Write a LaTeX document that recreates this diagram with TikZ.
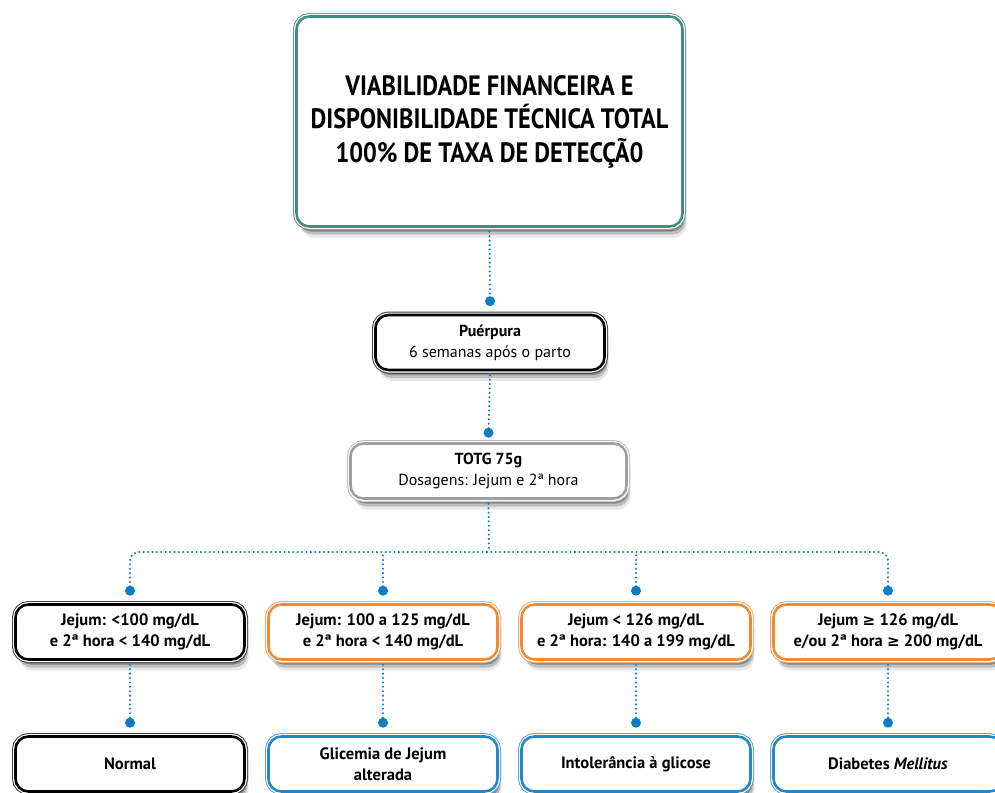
\documentclass[tikz,border=0pt]{standalone}
\usepackage{fontspec}
\setmainfont{PT Sans}
\newfontfamily\topfont[FakeStretch=0.87]{PT Sans}
\newfontfamily\symf[Scale=0.92]{DejaVu Sans}
\newcommand{\gee}{{\symf ≥}}
\usetikzlibrary{shadows,calc}
\definecolor{dotc}{RGB}{12,125,194}
\definecolor{tealc}{RGB}{62,143,123}
\definecolor{tealo}{RGB}{110,150,140}
\definecolor{orac}{RGB}{239,139,53}
\definecolor{orao}{RGB}{240,170,110}
\definecolor{bluc}{RGB}{35,135,200}
\definecolor{bluo}{RGB}{90,165,215}
\definecolor{grayc}{RGB}{160,160,160}
\definecolor{grayo}{RGB}{190,190,190}
\tikzset{
  softshadow/.style={
    drop shadow={shadow xshift=2pt,shadow yshift=-5pt,opacity=.30,fill=black},
    drop shadow={shadow xshift=3pt,shadow yshift=-8pt,opacity=.18,fill=black},
    drop shadow={shadow xshift=4pt,shadow yshift=-11pt,opacity=.09,fill=black}},
  dbl/.style 2 args={softshadow,
    preaction={draw=#2,line width=7pt,rounded corners=13pt},
    preaction={draw=white,line width=5pt,rounded corners=13pt},
    draw=#1,line width=2.6pt,fill=white,rounded corners=13pt,
    align=center,inner sep=2pt,text=black},
  topbox/.style={dbl={tealc}{tealo},minimum width=386pt,minimum height=210pt,
    font=\topfont\fontsize{28}{33.5}\selectfont\bfseries},
  midbox/.style={minimum height=55pt,font=\fontsize{16}{21}\selectfont},
  rowbox/.style={minimum width=229pt,minimum height=55pt,font=\fontsize{16.5}{21}\selectfont\bfseries},
  dotline/.style={draw=dotc,line width=2.3pt,dash pattern=on 0pt off 4.4pt,line cap=round},
  dotend/.style={fill=dotc},
}
\begin{document}
\begin{tikzpicture}[x=1pt,y=-1pt]
\useasboundingbox (0,0) rectangle (995,792);

\node[topbox] (top) at (489.5,121.5) {VIABILIDADE FINANCEIRA E\\DISPONIBILIDADE TÉCNICA TOTAL\\100\% DE TAXA DE DETECÇÃ0};

\node[dbl={black}{black!75},midbox,minimum width=229pt] (puer) at (490,342.5) {\textbf{Puérpura}\\6 semanas após o parto};
\node[dbl={grayc}{grayo},midbox,minimum width=276pt] (totg) at (488.5,471) {\textbf{TOTG 75g}\\Dosagens: Jejum e 2ª hora};

\node[dbl={black}{black!75},rowbox] (c1) at (130,632) {Jejum: <100 mg/dL\\e 2ª hora < 140 mg/dL};
\node[dbl={orac}{orao},rowbox] (c2) at (383,632) {Jejum: 100 a 125 mg/dL\\e 2ª hora < 140 mg/dL};
\node[dbl={orac}{orao},rowbox] (c3) at (636,632) {Jejum < 126 mg/dL\\e 2ª hora: 140 a 199 mg/dL};
\node[dbl={orac}{orao},rowbox] (c4) at (888,632) {Jejum \gee{} 126 mg/dL\\e/ou 2ª hora \gee{} 200 mg/dL};

\node[dbl={black}{black!75},rowbox] (r1) at (130,764) {Normal};
\node[dbl={bluc}{bluo},rowbox] (r2) at (383,764) {Glicemia de Jejum\\alterada};
\node[dbl={bluc}{bluo},rowbox] (r3) at (636,764) {Intolerância à glicose};
\node[dbl={bluc}{bluo},rowbox] (r4) at (888,764) {Diabetes \textit{Mellitus}};

% end points
\coordinate (dp) at ($(puer.north)+(0,12.5pt)$);
\coordinate (dt) at ($(totg.north)+(0,9.5pt)$);
\foreach \i in {1,2,3,4}{
  \coordinate (dc\i) at ($(c\i.north)+(0,12.5pt)$);
  \coordinate (dr\i) at ($(r\i.north)+(0,12.5pt)$);
}
\coordinate (bus) at (489,552);

\draw[dotline] ($(top.south)+(0,-4pt)$) -- (dp);
\draw[dotline] ($(puer.south)+(0,-4pt)$) -- (dt);
\draw[dotline] ($(totg.south)+(0,-4pt)$) -- (bus);
\draw[dotline,rounded corners=9pt] (dc1) |- (bus) -| (dc4);
\draw[dotline] (dc2) -- (dc2 |- bus);
\draw[dotline] (dc3) -- (dc3 |- bus);
\foreach \i in {1,2,3,4}{
  \draw[dotline] ($(c\i.south)+(0,-4pt)$) -- (dr\i);
}

\fill[dotend] (dp) circle (5pt);
\fill[dotend] (dt) circle (5pt);
\foreach \i in {1,2,3,4}{
  \fill[dotend] (dc\i) circle (5pt);
  \fill[dotend] (dr\i) circle (5pt);
}
\end{tikzpicture}
\end{document}
